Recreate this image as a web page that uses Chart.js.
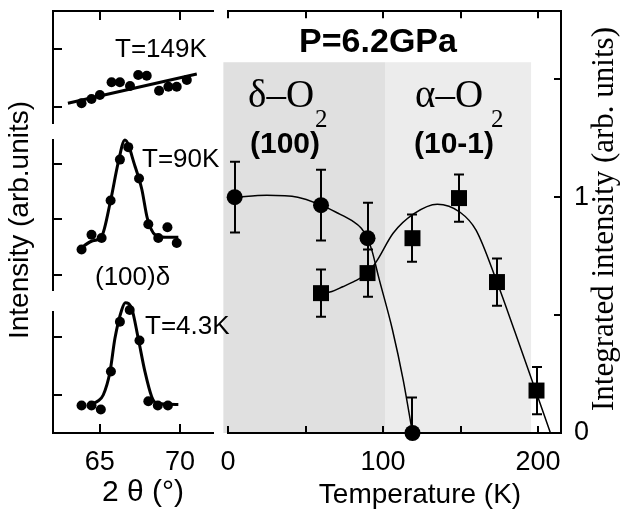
<!DOCTYPE html>
<html><head><meta charset="utf-8">
<script src="https://cdn.jsdelivr.net/npm/chart.js@4/dist/chart.umd.min.js"></script>
<style>
html,body{margin:0;padding:0;background:#fff;}
#wrap{position:relative;width:620px;height:512px;overflow:hidden;background:#fff;}
canvas{position:absolute;}
</style></head><body>
<div id="wrap">
<canvas id="main" width="620" height="512" style="left:0;top:0"></canvas>
<canvas id="p1" width="220" height="130" style="left:0;top:0"></canvas>
<canvas id="p2" width="220" height="165" style="left:0;top:130px"></canvas>
<canvas id="p3" width="220" height="217" style="left:0;top:295px"></canvas>
</div>
<script>
// ---------- main panel: integrated intensity vs temperature ----------
const tempDelta = [4.3, 60, 90, 119];
const intDelta  = [1.0, 0.966, 0.826, 0.0];
const errDelta  = [0.15, 0.15, 0.15, 0.15];
const tempAlpha = [60, 90, 119, 149, 173.5, 199];
const intAlpha  = [0.593, 0.678, 0.826, 0.996, 0.64, 0.18];
const errAlpha  = [0.1, 0.1, 0.1, 0.1, 0.1, 0.1];
const fitDeltaT = [4.3, 25, 45, 60, 70, 80, 86, 90, 93, 97, 106, 113, 119];
const fitDeltaI = [1.0, 1.008, 1.0, 0.966, 0.935, 0.90, 0.868, 0.826, 0.77, 0.665, 0.44, 0.225, 0.0];
const fitAlphaT = [60, 67, 74, 82, 90, 96, 106.5, 120, 135, 149.7, 160, 173.5, 185, 196, 208];
const fitAlphaI = [0.593, 0.60, 0.62, 0.645, 0.678, 0.73, 0.847, 0.93, 0.97, 0.936, 0.86, 0.64, 0.43, 0.225, 0.0];
const phaseFrom = [-3, 101.3];
const phaseTo   = [101.3, 195.5];
const phaseTop  = [1.572, 1.572];
const tempTicks = [0, 50, 100, 150, 200];
const tempLabels = [0, 100, 200];
const intTicks = [0, 0.5, 1, 1.5];
const intLabels = [0, 1];

// ---------- left panels: diffraction profiles vs 2theta ----------
const thetaTicks = [65, 70];
const thetaLabels = [65, 70];
const t149X = [63.86, 64.48, 65.0, 65.73, 66.25, 66.88, 67.39, 67.92, 68.69, 69.27, 69.79, 70.42];
const t149Y = [1.069, 1.143, 1.212, 1.431, 1.431, 1.367, 1.557, 1.545, 1.286, 1.355, 1.355, 1.471];
const t149FitX = [63.01, 71.04];
const t149FitY = [1.069, 1.574];
const t149Ticks = [1, 2];
const t90X = [63.86, 64.48, 65.11, 65.67, 66.25, 66.77, 67.44, 68.02, 68.64, 69.21, 69.79];
const t90Y = [1.461, 1.725, 1.667, 2.339, 3.070, 3.293, 2.732, 1.912, 1.667, 1.860, 1.579];
const t90FitX = [63.64, 64.48, 65.11, 65.67, 66.14, 66.56, 67.19, 67.61, 67.96, 68.44, 69.06, 69.89];
const t90FitY = [1.444, 1.609, 1.696, 2.339, 3.012, 3.421, 2.953, 2.544, 2.018, 1.725, 1.679, 1.679];
const t90Ticks = [1, 2, 3];
const t4X = [63.86, 64.48, 65.06, 65.69, 66.25, 66.86, 67.47, 68.02, 68.61, 69.24];
const t4Y = [0.819, 0.819, 0.750, 1.405, 2.264, 2.466, 1.940, 0.891, 0.819, 0.819];
const t4FitX = [64.48, 64.88, 65.21, 65.63, 65.94, 66.36, 66.59, 66.98, 67.39, 67.81, 68.23, 68.54, 69.89];
const t4FitY = [0.845, 0.897, 1.0, 1.397, 1.978, 2.466, 2.591, 2.495, 1.978, 1.402, 0.971, 0.857, 0.836];
const t4Ticks = [1, 2];

const SANS = '"Liberation Sans", Arial, sans-serif';
const SERIF = '"Liberation Serif", "Times New Roman", serif';
Chart.defaults.font.family = SANS;
Chart.defaults.color = '#000';

const pts = (xs, ys) => xs.map((x, i) => ({x: x, y: ys[i]}));
const fixSize = (w, h) => s => {
  if (w !== null) s.width = w;
  if (h !== null) s.height = h;
  s.paddingTop = 0; s.paddingBottom = 0; s.paddingLeft = 0; s.paddingRight = 0;
};

const inTicks = {
  id: 'inTicks',
  afterDraw(chart, args, opts) {
    const ctx = chart.ctx, a = chart.chartArea;
    ctx.save();
    ctx.strokeStyle = '#000';
    ctx.lineWidth = 2;
    (opts.list || []).forEach(t => {
      const s = chart.scales[t.scale];
      t.values.forEach(v => {
        const p = Math.round(s.getPixelForValue(v));
        ctx.beginPath();
        if (t.edge === 'top' || t.edge === 'bottom') {
          const y = t.edge === 'top' ? a.top : a.bottom;
          ctx.moveTo(p, y); ctx.lineTo(p, y + (t.edge === 'top' ? t.len : -t.len));
        } else {
          const x = t.edge === 'left' ? a.left : a.right;
          ctx.moveTo(x, p); ctx.lineTo(x + (t.edge === 'left' ? t.len : -t.len), p);
        }
        ctx.stroke();
      });
    });
    ctx.restore();
  }
};

const phaseShade = {
  id: 'phaseShade',
  beforeDraw(chart, args, opts) {
    const ctx = chart.ctx, xs = chart.scales.x, ys = chart.scales.y;
    ctx.save();
    opts.from.forEach((f, i) => {
      const x0 = xs.getPixelForValue(f), x1 = xs.getPixelForValue(opts.to[i]);
      const y0 = ys.getPixelForValue(opts.top[i]), y1 = ys.getPixelForValue(0);
      ctx.fillStyle = opts.colors[i];
      ctx.fillRect(x0, y0, x1 - x0, y1 - y0);
    });
    ctx.restore();
  }
};

const errorBars = {
  id: 'errorBars',
  beforeDatasetsDraw(chart, args, opts) {
    const ctx = chart.ctx, a = chart.chartArea, xs = chart.scales.x, ys = chart.scales.y;
    ctx.save();
    ctx.beginPath();
    ctx.rect(a.left, a.top, a.right - a.left, a.bottom - a.top + 1);
    ctx.clip();
    ctx.strokeStyle = '#000';
    ctx.lineWidth = 2;
    opts.sets.forEach(s => {
      s.x.forEach((xv, i) => {
        const px = Math.round(xs.getPixelForValue(xv));
        const yt = ys.getPixelForValue(s.y[i] + s.e[i]);
        const yb = ys.getPixelForValue(s.y[i] - s.e[i]);
        ctx.beginPath();
        ctx.moveTo(px, yt); ctx.lineTo(px, yb);
        ctx.moveTo(px - 5, yt); ctx.lineTo(px + 5, yt);
        ctx.moveTo(px - 5, yb); ctx.lineTo(px + 5, yb);
        ctx.stroke();
      });
    });
    ctx.restore();
  }
};

const texts = {
  id: 'texts',
  afterDraw(chart) {
    const ctx = chart.ctx;
    ctx.save();
    ctx.fillStyle = '#000';
    ctx.textBaseline = 'middle';
    ctx.textAlign = 'center';
    ctx.font = 'bold 34px ' + SANS;
    ctx.fillText('P=6.2GPa', 378, 43);
    ctx.font = 'bold 30px ' + SANS;
    ctx.fillText('(100)', 285, 145);
    ctx.fillText('(10-1)', 454, 145);
    ctx.textAlign = 'left';
    ctx.textBaseline = 'alphabetic';
    ctx.font = '39px ' + SERIF;
    ctx.fillText('δ–O', 248, 107);
    ctx.fillText('α–O', 415, 107);
    ctx.font = '25px ' + SERIF;
    ctx.fillText('2', 315, 127);
    ctx.fillText('2', 491, 127);
    // left panel labels
    ctx.textBaseline = 'middle';
    ctx.font = '26px ' + SANS;
    ctx.fillText('T=149K', 115, 50);
    ctx.fillText('T=90K', 142, 160);
    ctx.fillText('(100)δ', 95, 278);
    ctx.fillText('T=4.3K', 145, 327);
    ctx.textAlign = 'center';
    ctx.font = '30px ' + SANS;
    ctx.fillText('2 θ (°)', 143, 493);
    ctx.font = '28px ' + SANS;
    ctx.fillText('Temperature (K)', 420, 495);
    // vertical titles
    ctx.save();
    ctx.translate(20, 220);
    ctx.rotate(-Math.PI / 2);
    ctx.font = '28px ' + SANS;
    ctx.fillText('Intensity (arb.units)', 0, 0);
    ctx.restore();
    ctx.save();
    ctx.translate(613, 219);
    ctx.rotate(-Math.PI / 2);
    ctx.textBaseline = 'alphabetic';
    ctx.font = '31px ' + SERIF;
    ctx.fillText('Integrated intensity (arb. units)', 0, 0);
    ctx.restore();
    ctx.restore();
  }
};

const axisBorder = {display: true, width: 2, color: '#000'};
const noGrid = {display: false, drawTicks: false};

new Chart(document.getElementById('main'), {
  type: 'scatter',
  data: {
    datasets: [
      {data: pts(tempDelta, intDelta), pointStyle: 'circle', pointRadius: 8, backgroundColor: '#000', borderColor: '#000', borderWidth: 0, clip: false},
      {data: pts(tempAlpha, intAlpha), pointStyle: 'rect', pointRadius: 11.3, backgroundColor: '#000', borderColor: '#000', borderWidth: 0, clip: false},
      {data: pts(fitDeltaT, fitDeltaI), showLine: true, pointRadius: 0, borderColor: '#000', borderWidth: 1.5, cubicInterpolationMode: 'monotone'},
      {data: pts(fitAlphaT, fitAlphaI), showLine: true, pointRadius: 0, borderColor: '#000', borderWidth: 1.5, cubicInterpolationMode: 'monotone'}
    ]
  },
  options: {
    responsive: false, animation: false, events: [],
    layout: {padding: {left: 228, right: 0, top: 11, bottom: 0}},
    plugins: {
      legend: {display: false}, tooltip: {enabled: false},
      phaseShade: {from: phaseFrom, to: phaseTo, top: phaseTop, colors: ['#e0e0e0', '#ececec']},
      errorBars: {sets: [{x: tempDelta, y: intDelta, e: errDelta}, {x: tempAlpha, y: intAlpha, e: errAlpha}]},
      inTicks: {list: [
        {scale: 'x', edge: 'bottom', values: tempTicks, len: 7},
        {scale: 'x', edge: 'top', values: tempTicks, len: 7},
        {scale: 'y', edge: 'right', values: intTicks, len: 7}
      ]}
    },
    scales: {
      x: {type: 'linear', position: 'bottom', min: 0, max: 214.8,
          afterBuildTicks: s => { s.ticks = tempTicks.map(v => ({value: v})); },
          afterFit: fixSize(null, 79),
          grid: noGrid, border: axisBorder,
          ticks: {padding: 13, color: '#000', font: {size: 27}, maxRotation: 0, autoSkip: false,
                  callback: v => tempLabels.includes(v) ? String(v) : ''}},
      xTop: {type: 'linear', position: 'top', min: 0, max: 214.8,
          afterFit: fixSize(null, 0),
          grid: noGrid, border: axisBorder, ticks: {display: false}},
      y: {type: 'linear', position: 'right', min: 0, max: 1.788,
          afterBuildTicks: s => { s.ticks = intTicks.map(v => ({value: v})); },
          afterFit: fixSize(59, null),
          grid: noGrid, border: axisBorder,
          ticks: {padding: 13, color: '#000', font: {size: 27}, autoSkip: false,
                  callback: v => intLabels.includes(v) ? String(v) : ''}}
    }
  },
  plugins: [phaseShade, errorBars, inTicks, texts]
});

function panel(id, cfg) {
  const scales = {
    x: Object.assign({type: 'linear', min: 62.08, max: 72.05, grid: noGrid}, cfg.x),
    y: {type: 'linear', position: 'left', min: cfg.ymin, max: cfg.ymax,
        afterFit: fixSize(0, null), grid: noGrid, border: axisBorder, ticks: {display: false}}
  };
  const tickList = [{scale: 'y', edge: 'left', values: cfg.yticks, len: 9}];
  if (cfg.xedge) tickList.push({scale: 'x', edge: cfg.xedge, values: thetaTicks, len: 9});
  new Chart(document.getElementById(id), {
    type: 'scatter',
    data: {datasets: [
      {data: pts(cfg.px, cfg.py), pointStyle: 'circle', pointRadius: 5, backgroundColor: '#000', borderWidth: 0, clip: false},
      {data: pts(cfg.fx, cfg.fy), showLine: true, pointRadius: 0, borderColor: '#000', borderWidth: 3, cubicInterpolationMode: 'monotone', clip: false}
    ]},
    options: {
      responsive: false, animation: false, events: [],
      layout: {padding: cfg.pad},
      plugins: {legend: {display: false}, tooltip: {enabled: false}, inTicks: {list: tickList}},
      scales: scales
    },
    plugins: [inTicks]
  });
}

panel('p1', {px: t149X, py: t149Y, fx: t149FitX, fy: t149FitY, yticks: t149Ticks, ymin: 0.729, ymax: 2.66,
  pad: {left: 53, right: 7, top: 11, bottom: 7}, xedge: 'top',
  x: {position: 'top', afterFit: fixSize(null, 0), border: axisBorder, ticks: {display: false}}});
panel('p2', {px: t90X, py: t90Y, fx: t90FitX, fy: t90FitY, yticks: t90Ticks, ymin: 0.737, ymax: 3.421,
  pad: {left: 53, right: 7, top: 10, bottom: 2}, xedge: null,
  x: {display: false}});
panel('p3', {px: t4X, py: t4Y, fx: t4FitX, fy: t4FitY, yticks: t4Ticks, ymin: 0.345, ymax: 2.431,
  pad: {left: 53, right: 7, top: 17, bottom: 0}, xedge: 'bottom',
  x: {position: 'bottom', afterFit: fixSize(null, 79), border: axisBorder,
      afterBuildTicks: s => { s.ticks = thetaTicks.map(v => ({value: v})); },
      ticks: {padding: 13, color: '#000', font: {size: 27}, maxRotation: 0, autoSkip: false,
              callback: v => thetaLabels.includes(v) ? String(v) : ''}}});
</script>
</body></html>
